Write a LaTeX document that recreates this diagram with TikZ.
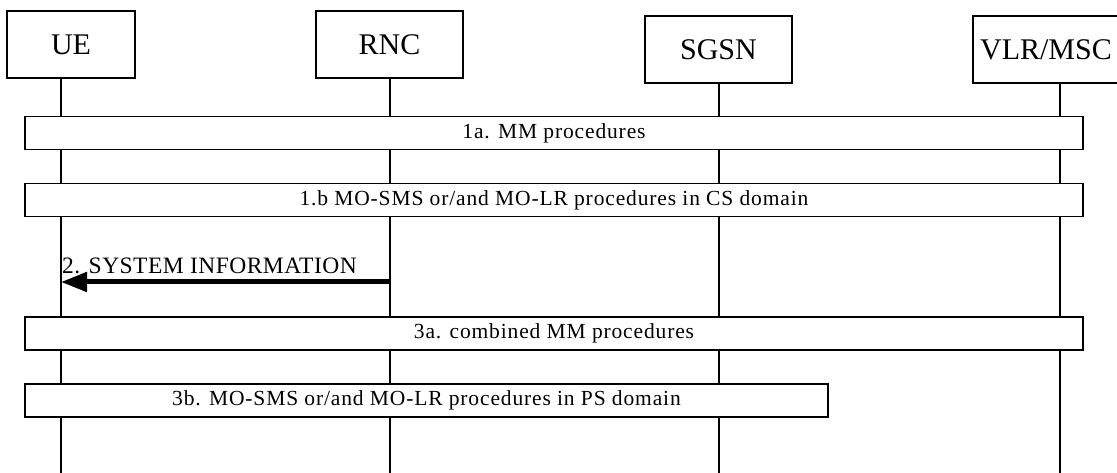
\documentclass[tikz,border=0pt]{standalone}
\usepackage{fontspec}
\setmainfont{Liberation Serif}
\newfontfamily\barfont[LetterSpace=4]{Liberation Serif}
\newfontfamily\msgfont[LetterSpace=2]{Liberation Serif}
\usepackage{tikz}
\usetikzlibrary{arrows.meta, positioning, calc}

\begin{document}
\begin{tikzpicture}[
        x=1pt, y=-1pt,
        entity/.style={rectangle, draw, line width=1.5pt, fill=white, inner sep=0pt,
                       minimum height=67pt, font=\fontsize{30}{30}\selectfont},
        lifeline/.style={draw, line width=1.3pt},
        bar/.style={rectangle, draw, line width=1.5pt, fill=white, inner sep=0pt,
                    minimum height=33pt, font=\barfont\fontsize{21.5}{21.5}\selectfont},
        sigarrow/.style={line width=5pt, -{Triangle[length=26pt, width=19pt]}},
        siglabel/.style={inner sep=0pt, font=\msgfont\fontsize{23.5}{23.5}\selectfont}
      ]
      \useasboundingbox (0,0) rectangle (1117,473);

      % Header entities
      \node (ue) [entity, minimum width=128pt] at (71,44.5) {UE};
      \node (rnc) [entity, minimum width=147pt] at (389.5,44.5) {RNC};
      \node (sgsn) [entity, minimum width=147pt] at (718.5,49.5) {SGSN};
      \node (vlr) [entity, minimum width=146pt] at (1046,49.5) {VLR/MSC};

      % Lifeline ends
      \coordinate (ueEnd) at (61,473);
      \coordinate (rncEnd) at (390,473);
      \coordinate (sgsnEnd) at (719,473);
      \coordinate (vlrEnd) at (1060,473);

      % Lifelines
      \draw [lifeline] (ue.south -| ueEnd) -- (ueEnd);
      \draw [lifeline] (rnc.south -| rncEnd) -- (rncEnd);
      \draw [lifeline] (sgsn.south -| sgsnEnd) -- (sgsnEnd);
      \draw [lifeline] (vlr.south -| vlrEnd) -- (vlrEnd);

      % Procedure bars
      \node (mmproc) [bar, minimum width=1058pt] at (554,133) {1a. MM procedures};
      \node (csproc) [bar, minimum width=1058pt] at (554,200) {1.b MO-SMS or/and MO-LR procedures in CS domain};
      \node (combproc) [bar, minimum width=1058pt] at (554,333.5) {3a. combined MM procedures};
      \node (psproc) [bar, minimum width=803pt] at (426.5,400.5) {3b. MO-SMS or/and MO-LR procedures in PS domain};

      % System information message
      \coordinate (rncMsg) at (390,282);
      \coordinate (ueMsg) at (61,282);
      \node (sysinfo) [siglabel, anchor=base west] at (62,273) {2. SYSTEM INFORMATION};
      \draw [sigarrow] (rncMsg) -- (ueMsg);

    \end{tikzpicture}
\end{document}
